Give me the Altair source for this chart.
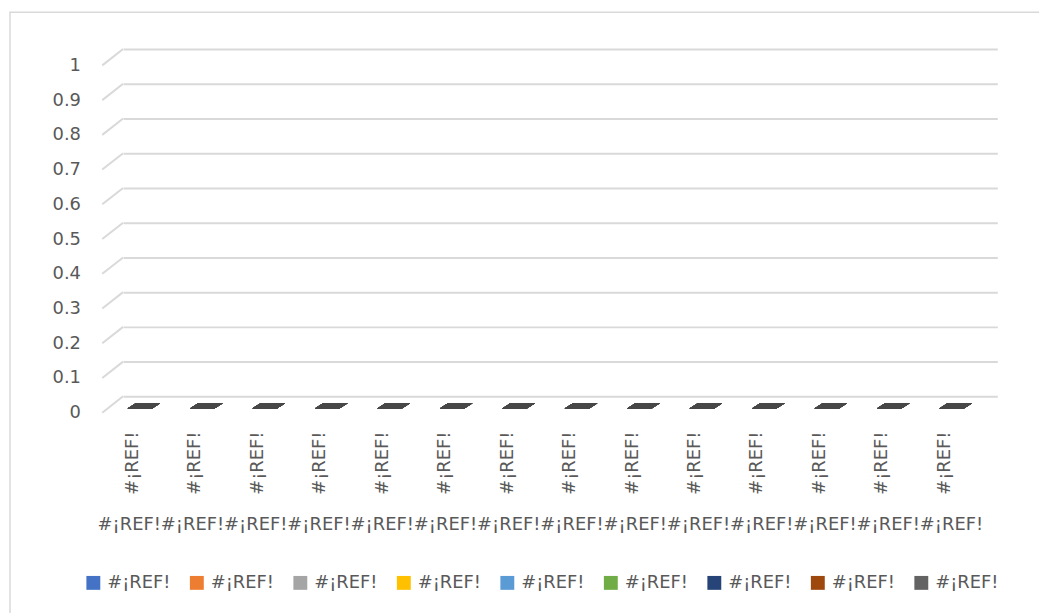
import json
import altair as alt
import pandas as pd

# ---- data (all series are zero) ----
categories = ["#¡REF!"] * 14
series_names = ["#¡REF!"] * 9
series_colors = ["#4472C4", "#ED7D31", "#A5A5A5", "#FFC000", "#5B9BD5",
                 "#70AD47", "#264478", "#9E480E", "#636363"]
series_values = [
    [0, 0, 0, 0, 0, 0, 0, 0, 0, 0, 0, 0, 0, 0],
    [0, 0, 0, 0, 0, 0, 0, 0, 0, 0, 0, 0, 0, 0],
    [0, 0, 0, 0, 0, 0, 0, 0, 0, 0, 0, 0, 0, 0],
    [0, 0, 0, 0, 0, 0, 0, 0, 0, 0, 0, 0, 0, 0],
    [0, 0, 0, 0, 0, 0, 0, 0, 0, 0, 0, 0, 0, 0],
    [0, 0, 0, 0, 0, 0, 0, 0, 0, 0, 0, 0, 0, 0],
    [0, 0, 0, 0, 0, 0, 0, 0, 0, 0, 0, 0, 0, 0],
    [0, 0, 0, 0, 0, 0, 0, 0, 0, 0, 0, 0, 0, 0],
    [0, 0, 0, 0, 0, 0, 0, 0, 0, 0, 0, 0, 0, 0],
]
y_ticks = [0, 0.1, 0.2, 0.3, 0.4, 0.5, 0.6, 0.7, 0.8, 0.9, 1]
x_title = "".join(categories)

FONT = "DejaVu Sans"
TXT = "#595959"
GRID = "#D9D9D9"

rows = []
for s, vals in enumerate(series_values):
    for c, v in enumerate(vals):
        rows.append({"cat": c, "series": s, "value": v})
df = pd.DataFrame(rows)
ticks_df = pd.DataFrame({"v": y_ticks})

cat_json = json.dumps(categories, ensure_ascii=False)
ser_json = json.dumps(series_names, ensure_ascii=False)

W, H = 881, 350
DEPTH_X, DEPTH_Y = 21, 16.5

y_scale = alt.Scale(domain=[0, 1], nice=False, zero=True)
x_scale = alt.Scale(domain=list(range(len(categories))), paddingInner=0, paddingOuter=0)

y_axis = alt.Axis(values=y_ticks, format="~g", grid=True, gridColor=GRID, gridWidth=2,
                  domain=False, ticks=False, labelPadding=43, labelOffset=DEPTH_Y,
                  labelFont=FONT, labelFontSize=18, labelColor=TXT, title=None)
x_axis = alt.Axis(labelExpr=f"{cat_json}[datum.value]", labelAngle=270, labelAlign="right",
                  labelBaseline="middle", labelPadding=35, labelOffset=-22,
                  domain=False, ticks=False, grid=False, labelFont=FONT, labelFontSize=18,
                  labelColor=TXT, title=x_title, titleFont=FONT, titleFontSize=18,
                  titleFontWeight="normal", titleColor=TXT, titleX=420, titleY=129,
                  titleAlign="center", titleBaseline="middle")

border = alt.Chart(pd.DataFrame({"k": [0]})).mark_rect(
    filled=False, stroke=GRID, strokeWidth=1.5
).encode(
    x=alt.value(-114), x2=alt.value(W + 60),
    y=alt.value(-37), y2=alt.value(H + 240),
)

diag = alt.Chart(ticks_df).mark_rule(color=GRID, strokeWidth=2, y2Offset=DEPTH_Y).encode(
    x=alt.value(0), x2=alt.value(-DEPTH_X),
    y=alt.Y("v:Q", scale=y_scale, axis=y_axis),
    y2=alt.Y2("v"),
)

shape = "M -1 0.16 L -0.5 -0.16 L 1 -0.16 L 0.5 0.16 Z"

plates_series = alt.Chart(df).mark_point(
    shape=shape, filled=True, size=1089, opacity=1, strokeWidth=0,
    xOffset=-10.5, yOffset=9.5,
).encode(
    x=alt.X("cat:N", scale=x_scale, axis=x_axis),
    y=alt.Y("value:Q", scale=y_scale, axis=y_axis),
    color=alt.Color("series:N",
                    scale=alt.Scale(domain=list(range(len(series_names))), range=series_colors),
                    legend=alt.Legend(orient="none", legendX=-39, legendY=529,
                                      direction="horizontal", columns=9, title=None,
                                      symbolType="square", symbolSize=196, symbolStrokeWidth=0,
                                      symbolOpacity=1, labelExpr=f"{ser_json}[datum.value]",
                                      labelFont=FONT, labelFontSize=18, labelColor=TXT,
                                      labelOffset=5, columnPadding=17.3, padding=0,
                                      labelLimit=0)),
)

plates_top = alt.Chart(df).mark_point(
    shape=shape, filled=True, size=1089, opacity=1, strokeWidth=0,
    xOffset=-10.5, yOffset=9.5, color="#474747",
).encode(
    x=alt.X("cat:N", scale=x_scale, axis=x_axis),
    y=alt.Y("value:Q", scale=y_scale, axis=y_axis),
)

chart = alt.layer(border, diag, plates_series, plates_top).properties(
    width=W, height=H,
    autosize=alt.AutoSizeParams(type="none"),
    padding={"left": 116, "top": 39, "right": 42, "bottom": 216},
    background="white",
).configure_view(stroke=None)

chart.save("out.html", embed_options={"renderer": "svg", "actions": False})
